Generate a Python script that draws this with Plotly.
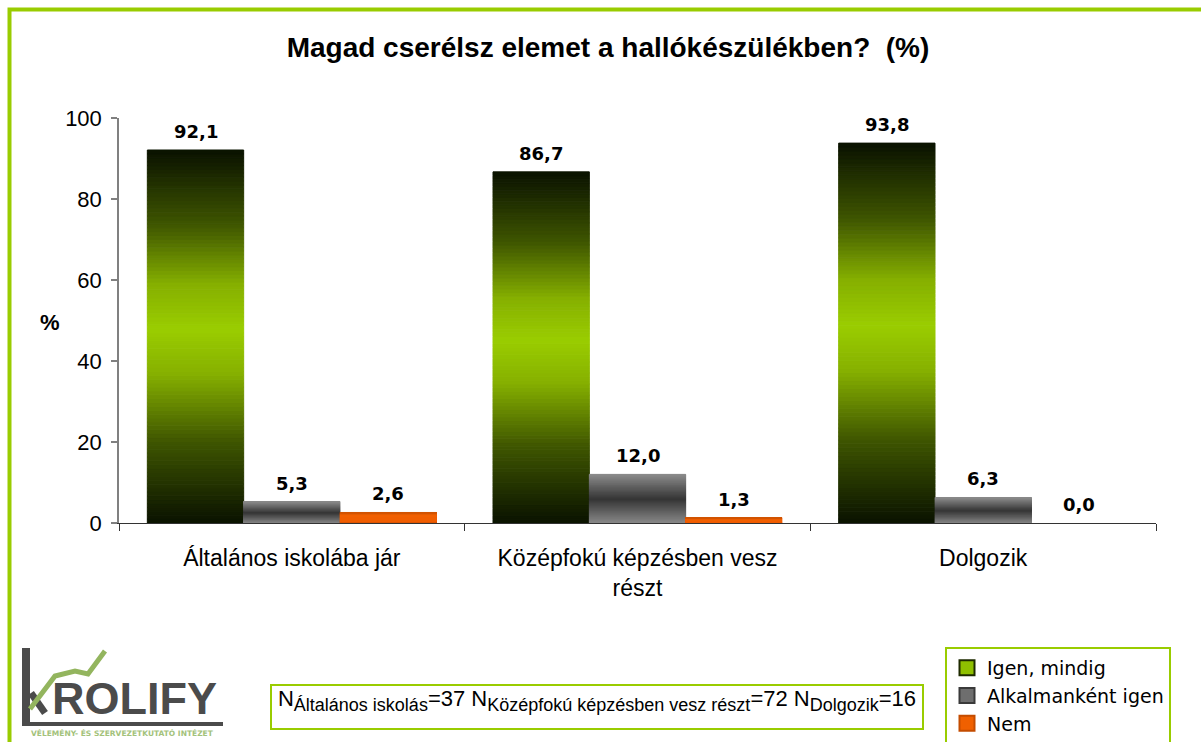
import plotly.graph_objects as go
from plotly.colors import sample_colorscale

# ---------------- data ----------------
categories = ['Általános iskolába jár', 'Középfokú képzésben vesz<br>részt', 'Dolgozik']
series_names = ['Igen, mindig', 'Alkalmanként igen', 'Nem']
igen_mindig = [92.1, 86.7, 93.8]
alkalmankent_igen = [5.3, 12.0, 6.3]
nem = [2.6, 1.3, 0.0]
n_groups = ['Általános iskolás', 'Középfokú képzésben vesz részt', 'Dolgozik']
n_values = [37, 72, 16]
y_ticks = [0, 20, 40, 60, 80, 100]
title_text = 'Magad cserélsz elemet a hallókészülékben?\u00a0\u00a0(%)'

series_values = [igen_mindig, alkalmankent_igen, nem]

# ---------------- styles ----------------
W_FIG, H_FIG = 1201, 742
PL, PR, PT, PB = 119, 1156, 118, 523
PW, PH = PR - PL, PB - PT
BARGAP = 0.164
LIME = '#99cc00'

scales = [
    [[0, '#0a1200'], [0.22, '#3f5600'], [0.40, '#86b000'], [0.52, '#9acd00'],
     [0.64, '#86b000'], [0.80, '#3f5600'], [1, '#0a1200']],
    [[0, '#8a8a8a'], [0.5, '#363636'], [1, '#8a8a8a']],
    [[0, '#c44c00'], [0.2, '#f06000'], [0.8, '#f26200'], [1, '#d05400']],
]
legend_fill = ['#8fc000', '#6e6e6e', '#f06000']
legend_edge = ['#1e2a00', '#3a3a3a', '#c44c00']

K = 96  # gradient slices per bar


def px(x):
    return (x - PL) / PW


def py(y):
    return (PB - y) / PH


def fmt(v):
    return f'{v:.1f}'.replace('.', ',')


fig = go.Figure()

for j, (name, vals, cs) in enumerate(zip(series_names, series_values, scales)):
    cols = sample_colorscale(cs, [(i + 0.5) / K for i in range(K)])
    for i in range(K):
        fig.add_trace(go.Bar(
            x=categories,
            y=[v / K for v in vals],
            base=[v * i / K for v in vals],
            offsetgroup=str(j),
            name=name,
            legendgroup=name,
            showlegend=False,
            marker=dict(color=cols[i],
                        line=dict(width=[1 if v > 0 else 0 for v in vals], color=cols[i])),
            hoverinfo='skip',
        ))

# legend glyphs (no data, legend only)
for j, name in enumerate(series_names):
    fig.add_trace(go.Scatter(
        x=[None], y=[None], mode='markers', name=name, legendgroup=name,
        marker=dict(symbol='square', size=15, color=legend_fill[j],
                    line=dict(width=2, color=legend_edge[j])),
        showlegend=True, hoverinfo='skip',
    ))

# value labels
group_w = (PW / len(categories)) * (1 - BARGAP)
bar_w = group_w / len(series_names)
annotations = []
for j, vals in enumerate(series_values):
    for c, v in zip(categories, vals):
        annotations.append(dict(
            x=c, y=v, xref='x', yref='y', text='<b>' + fmt(v) + '</b>',
            showarrow=False, yanchor='bottom', xanchor='center',
            xshift=(j - 1) * bar_w, yshift=6,
            font=dict(family='DejaVu Sans', size=18, color='black'),
        ))

# y-axis title "%"
annotations.append(dict(
    x=px(50), y=py(322), xref='paper', yref='paper', text='<b>%</b>',
    showarrow=False, xanchor='center', yanchor='middle',
    font=dict(family='Liberation Sans', size=22, color='black'),
))

# N box
n_text = ' '.join(
    f'N<sub><span style="font-size:18px">{g}</span></sub>={n}'
    for g, n in zip(n_groups, n_values))
annotations.append(dict(
    x=px(597), y=py(707), xref='paper', yref='paper', text=n_text,
    showarrow=False, xanchor='center', yanchor='middle',
    width=650, height=42, valign='top', align='center',
    bordercolor=LIME, borderwidth=2, borderpad=0, bgcolor='white',
    font=dict(family='Liberation Sans', size=22, color='black'),
))

# logo texts
annotations.append(dict(
    x=px(50), y=py(698), xref='paper', yref='paper', text='<b>ROLIFY</b>',
    showarrow=False, xanchor='left', yanchor='middle',
    font=dict(family='Liberation Sans', size=45, color='#4b4b4b'),
))
annotations.append(dict(
    x=px(122), y=py(733), xref='paper', yref='paper',
    text='<b>VÉLEMÉNY- ÉS SZERVEZETKUTATÓ INTÉZET</b>',
    showarrow=False, xanchor='center', yanchor='middle',
    font=dict(family='DejaVu Sans', size=7.5, color='#a3c27a'),
))

shapes = [
    # outer lime frame (partially cropped)
    dict(type='rect', xref='paper', yref='paper', x0=px(9.5), y0=py(9.5),
         x1=px(1230), y1=py(780), line=dict(color=LIME, width=4), layer='above'),
    # logo
    dict(type='rect', xref='paper', yref='paper', x0=px(22), x1=px(30), y0=py(648), y1=py(726),
         fillcolor='#4b4b4b', line=dict(width=0)),
    dict(type='rect', xref='paper', yref='paper', x0=px(22), x1=px(223), y0=py(722), y1=py(726),
         fillcolor='#4b4b4b', line=dict(width=0)),
    dict(type='path', xref='paper', yref='paper',
         path=f'M {px(31)},{py(693)} L {px(45)},{py(713)}',
         line=dict(color='#4b4b4b', width=7)),
    dict(type='path', xref='paper', yref='paper',
         path=(f'M {px(30)},{py(709)} L {px(55)},{py(676)} L {px(75)},{py(671)} '
               f'L {px(88)},{py(674)} L {px(105)},{py(651)}'),
         line=dict(color='#93b55e', width=5)),
]

fig.update_layout(
    width=W_FIG, height=H_FIG,
    margin=dict(l=PL, r=W_FIG - PR, t=PT, b=H_FIG - PB, autoexpand=False),
    paper_bgcolor='white', plot_bgcolor='white',
    barmode='group', bargap=BARGAP, bargroupgap=0,
    title=dict(text='<b>' + title_text + '</b>', x=608 / W_FIG, xref='container',
               xanchor='center', y=1 - 47 / H_FIG, yref='container', yanchor='middle',
               font=dict(family='Liberation Sans', size=28, color='black')),
    xaxis=dict(type='category', showline=True, linecolor='#333333', linewidth=1.3,
               ticks='outside', tickson='boundaries', ticklen=7, tickcolor='#333333',
               tickwidth=1.3, showgrid=False, ticklabelstandoff=14,
               tickfont=dict(family='Liberation Sans', size=23, color='black')),
    yaxis=dict(range=[0, 100], tickvals=y_ticks, showline=True, linecolor='#808080',
               linewidth=1.5, ticks='outside', ticklen=6, tickcolor='#808080',
               tickwidth=1.5, showgrid=False, zeroline=False, ticklabelstandoff=5,
               tickfont=dict(family='Liberation Sans', size=22, color='black')),
    legend=dict(xref='container', yref='container', x=945 / W_FIG, y=1 - 647 / H_FIG,
                xanchor='left', yanchor='top', bordercolor=LIME, borderwidth=2,
                bgcolor='white', traceorder='normal', tracegroupgap=0,
                itemsizing='trace', entrywidth=230, entrywidthmode='pixels',
                font=dict(family='DejaVu Sans', size=19, color='black'),
                itemclick=False, itemdoubleclick=False),
    annotations=annotations,
    shapes=shapes,
    showlegend=True,
)

fig.write_html('out.html', config={'displayModeBar': False},
               post_script="document.body.style.margin='0';")
